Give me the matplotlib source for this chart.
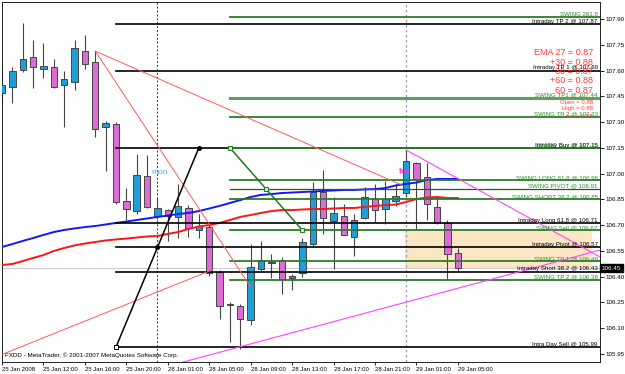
import matplotlib
matplotlib.use('Agg')
import matplotlib.pyplot as plt
import matplotlib.transforms as mtransforms

plt.rcParams['font.family'] = ['Liberation Sans', 'DejaVu Sans']

# hourly USDJPY-style candles, 25 Jan 08:00 -> 29 Jan 05:00
opens = [107.472, 107.507, 107.601, 107.677, 107.607, 107.619, 107.513, 107.531, 107.713, 107.648,
         107.273, 107.291, 106.840, 106.781, 106.986, 106.752, 106.787, 106.746, 106.799, 106.670,
         106.687, 106.430, 106.236, 106.230, 106.148, 106.447, 106.482, 106.500, 106.394, 106.424,
         106.588, 106.892, 106.722, 106.752, 106.629, 106.740, 106.851, 106.793, 106.840, 106.887,
         107.062, 106.980, 106.806, 106.713, 106.538]
highs = [107.607, 107.619, 107.877, 107.777, 107.759, 107.666, 107.595, 107.777, 107.806, 107.713,
         107.308, 107.302, 106.916, 107.115, 107.109, 106.857, 106.793, 106.939, 106.816, 106.763,
         106.710, 106.441, 106.250, 106.242, 106.588, 106.605, 106.535, 106.512, 106.418, 106.623,
         106.951, 107.021, 106.863, 106.822, 106.763, 106.922, 106.939, 106.957, 106.939, 107.138,
         107.070, 107.062, 106.864, 106.730, 106.567]
lows = [107.408, 107.414, 107.590, 107.496, 107.554, 107.496, 107.273, 107.484, 107.607, 107.214,
        107.015, 106.822, 106.728, 106.763, 106.800, 106.734, 106.605, 106.623, 106.629, 106.623,
        106.406, 106.154, 106.020, 105.978, 106.119, 106.430, 106.394, 106.300, 106.324, 106.400,
        106.570, 106.646, 106.447, 106.640, 106.523, 106.734, 106.716, 106.705, 106.810, 106.864,
        106.678, 106.730, 106.707, 106.381, 106.433]
closes = [107.513, 107.595, 107.666, 107.619, 107.625, 107.502, 107.549, 107.730, 107.636, 107.261,
          107.297, 106.834, 106.793, 106.992, 106.805, 106.799, 106.752, 106.810, 106.681, 106.693,
          106.424, 106.230, 106.238, 106.154, 106.459, 106.500, 106.488, 106.389, 106.406, 106.600,
          106.892, 106.740, 106.769, 106.640, 106.728, 106.863, 106.787, 106.851, 106.869, 107.073,
          106.969, 106.823, 106.713, 106.532, 106.450]

ema_blue = [106.573, 106.590, 106.608, 106.625, 106.643, 106.660, 106.672, 106.681, 106.689, 106.695,
            106.704, 106.713, 106.721, 106.730, 106.739, 106.748, 106.756, 106.765, 106.771, 106.782,
            106.797, 106.812, 106.829, 106.846, 106.864, 106.876, 106.881, 106.887, 106.890, 106.893,
            106.896, 106.899, 106.902, 106.905, 106.905, 106.908, 106.910, 106.916, 106.931, 106.940,
            106.948, 106.963, 106.969, 106.969, 106.969]
ema_red = [106.468, 106.474, 106.491, 106.509, 106.526, 106.550, 106.567, 106.582, 106.593, 106.602,
           106.611, 106.617, 106.622, 106.628, 106.634, 106.637, 106.649, 106.660, 106.678, 106.692,
           106.701, 106.713, 106.730, 106.748, 106.759, 106.771, 106.782, 106.788, 106.788, 106.791,
           106.794, 106.794, 106.797, 106.800, 106.800, 106.806, 106.812, 106.817, 106.820, 106.835,
           106.852, 106.861, 106.864, 106.858, 106.858]

tick_bars = [0, 4, 8, 12, 16, 20, 24, 28, 32, 36, 40, 44]
tick_labels = ['25 Jan 2008', '25 Jan 12:00', '25 Jan 16:00', '25 Jan 20:00', '28 Jan 01:00',
               '28 Jan 05:00', '28 Jan 09:00', '28 Jan 13:00', '28 Jan 17:00', '28 Jan 21:00',
               '29 Jan 01:00', '29 Jan 05:00']
price_ticks = [105.95, 106.10, 106.25, 106.40, 106.55, 106.70, 106.85, 107.00, 107.15,
               107.30, 107.45, 107.60, 107.75, 107.90]

# intraday levels (black) and swing levels (green)
intra_names = ['Intraday TP 2 @ 107.87', 'Intraday TP 1 @ 107.60', 'Intraday Buy @ 107.15',
               'Intraday Long 61.8 @ 106.71', 'Intraday Pivot @ 106.57',
               'Intraday Short 38.2 @ 106.43', 'Intra Day Sell @ 105.99']
intra_prices = [107.87, 107.60, 107.15, 106.71, 106.57, 106.43, 105.99]
swing_names = ['SWING 261.8', 'SWING TP1 @ 107.44', 'SWING TP 2 @ 107.33', 'SWING Buy @ 107.15',
               'SWING LONG 61.8 @ 106.96', 'SWING PIVOT @ 106.91', 'SWING SHORT 38.2 @ 106.85',
               'SWING Sell @ 106.67', 'SWING TP 1 @ 106.49', 'SWING TP 2 @ 106.38']
swing_prices = [107.91, 107.44, 107.33, 107.15, 106.96, 106.91, 106.85, 106.67, 106.49, 106.38]

ema_texts = ['EMA 27 = 0.87', '+30 = 0.88', '30 = 0.87', '+60 = 0.88', '60 = 0.87']
ohl_texts = ['Open = 0.88', 'High = 0.88', 'Low = 0.88']

bid = 106.45

fig = plt.figure(figsize=(6.25, 3.74), dpi=100)
ax = fig.add_axes([2 / 625, 12 / 374, 598 / 625, 360 / 374])
x_max = 57.72
ax.set_xlim(0, x_max)
ax.set_ylim(105.9035, 107.999)

# background zone and separators
ax.fill_between([38.9, 56.95], 106.45, 106.672, color='#FDE6C3', lw=0, zorder=0)
ax.axhline(bid, color='#CFCFCF', lw=0.9, zorder=0.5)
ax.axvline(15, color='#333333', lw=0.7, ls=(0, (2, 2)), zorder=0.6)
ax.axvline(39, color='#9A9AC0', lw=0.9, ls=(0, (2, 2)), zorder=0.6)

# candles
for i in range(len(opens)):
    o, h, l, c = opens[i], highs[i], lows[i], closes[i]
    ax.vlines(i, l, h, color='#454545', lw=0.8, zorder=2)
    col = '#1E9FDC' if c >= o else '#DD6BD6'
    bottom = min(o, c)
    height = max(abs(c - o), 0.004)
    ax.bar(i, height, bottom=bottom, width=0.62, color=col, edgecolor='#454545',
           lw=0.7, zorder=3)

# moving averages
bars = list(range(len(ema_blue)))
ax.plot(bars, ema_blue, color='#1515FF', lw=1.4, zorder=4)
ax.plot(bars, ema_red, color='#FF1515', lw=1.4, zorder=4)

# horizontal levels
for name, p in zip(intra_names, intra_prices):
    ax.plot([11, x_max], [p, p], color='black', lw=1.2, zorder=5)
    ax.text(57.5, p + 0.002, name, ha='right', va='bottom', fontsize=4.4, color='black', zorder=7)
for name, p in zip(swing_names, swing_prices):
    if name.startswith('SWING TP1'):
        ax.plot([22, x_max], [p, p], color='#5E9E5E', lw=2.2, zorder=5)
    elif 'PIVOT' in name:
        ax.plot([22, x_max], [p, p], color='#1F5F1F', lw=0.9, zorder=5)
    else:
        ax.plot([22, x_max], [p, p], color='#2A7D2A', lw=1.3, zorder=5)
    ax.text(57.5, p + 0.002, name, ha='right', va='bottom', fontsize=4.4, color='#2E8B2E', zorder=7)

# trend lines
ax.plot([9, 38.7], [107.713, 106.93], color='#FF5A5A', lw=0.7, zorder=6)
ax.plot([9, 24], [107.713, 106.34], color='#FF5A5A', lw=0.7, zorder=6)
ax.plot([-0.5, 20.3], [105.935, 106.44], color='#FF5A5A', lw=0.7, zorder=6)
ax.plot([39, x_max], [107.138, 106.515], color='#FF44FF', lw=0.8, zorder=6)
ax.plot([17.47, x_max], [105.903, 106.555], color='#FF44FF', lw=0.8, zorder=6)

ax.plot([11, 15, 19], [105.99, 106.57, 107.15], color='black', lw=1.1, zorder=6)
ax.plot([11], [105.99], marker='s', ms=3, mfc='white', mec='black', mew=0.7, zorder=7)
ax.plot([15, 19], [106.57, 107.15], 'o', ms=2.6, color='black', zorder=7)
ax.plot([22, 25.5, 29], [107.15, 106.91, 106.67], color='#1E7A1E', lw=1.1, zorder=6,
        marker='s', ms=3, mfc='#CFE8CF', mec='#1E7A1E', mew=0.7)

# labels in chart
ax.text(15.2, 107.009, 'mon', ha='center', va='center', fontsize=6, color='#3FA9F5', zorder=8)
ax.text(38.9, 107.015, 'tue', ha='center', va='center', fontsize=6, color='#FF2FC8',
        fontweight='bold', zorder=8)

for k, t in enumerate(ema_texts):
    ax.text(0.988, [0.861, 0.833, 0.808, 0.781, 0.753][k], t, transform=ax.transAxes,
            ha='right', va='center', fontsize=6.5, color='#FF3B3B', zorder=6)
for k, t in enumerate(ohl_texts):
    ax.text(0.988, [0.722, 0.703, 0.683][k], t, transform=ax.transAxes,
            ha='right', va='center', fontsize=4.3, color='#FF3B3B', zorder=6)

ax.text(0.005, 0.019, 'FXDD - MetaTrader, \u00a9 2001-2007 MetaQuotes Software Corp.',
        transform=ax.transAxes, ha='left', va='center', fontsize=4.5, color='black')

# axes
ax.yaxis.tick_right()
ax.set_yticks(price_ticks)
ax.set_yticklabels(['%.2f' % p for p in price_ticks])
ax.set_xticks(tick_bars)
ax.set_xticklabels(tick_labels)
for lab in ax.get_xticklabels():
    lab.set_ha('left')
ax.tick_params(axis='y', length=3, width=0.6, pad=1, labelsize=4.5)
ax.tick_params(axis='x', length=2.5, width=0.6, pad=1, labelsize=4.3)
for s in ax.spines.values():
    s.set_linewidth(0.7)
    s.set_color('#222222')

trans = mtransforms.blended_transform_factory(ax.transAxes, ax.transData)
ax.text(1.003, bid, '106.45', transform=trans, ha='left', va='center', fontsize=4.5,
        color='white', bbox=dict(boxstyle='square,pad=0.25', fc='black', ec='black'), zorder=9,
        clip_on=False)

fig.savefig('out.png', dpi=100, facecolor='white')
